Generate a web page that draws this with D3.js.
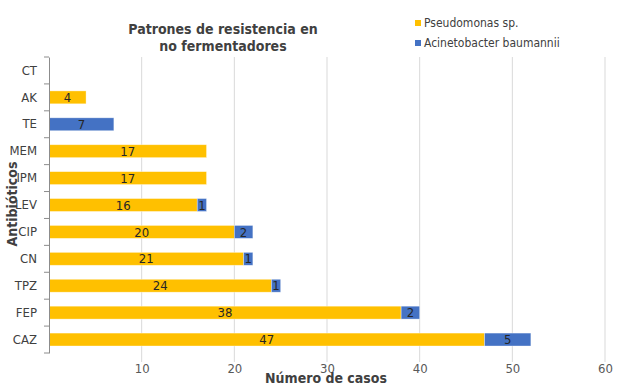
<!DOCTYPE html>
<html>
<head>
<meta charset="utf-8">
<script src="https://d3js.org/d3.v7.min.js"></script>
<style>
  body { margin: 0; background: #fff; }
  text { font-family: "DejaVu Sans Condensed", "DejaVu Sans", Verdana, sans-serif; }
</style>
</head>
<body>
<script>
    // Data
    var categories = ["CT", "AK", "TE", "MEM", "IPM", "LEV", "CIP", "CN", "TPZ", "FEP", "CAZ"];
    var pseudomonas = [0, 4, 0, 17, 17, 16, 20, 21, 24, 38, 47];
    var acinetobacter = [0, 0, 7, 0, 0, 1, 2, 1, 1, 2, 5];
    var seriesNames = ["Pseudomonas sp.", "Acinetobacter baumannii"];
    var xTicks = [10, 20, 30, 40, 50, 60];

    var W = 624, H = 387;
    var margin = {top: 57, left: 49, right: 19, bottom: 34};
    var width = W - margin.left - margin.right,
        height = H - margin.top - margin.bottom;

    var color = d3.scaleOrdinal().domain(seriesNames).range(["#FFC000", "#4472C4"]);

    var x = d3.scaleLinear().domain([0, 60]).range([0, width]);
    var y = d3.scaleBand().domain(categories).range([0, height]).paddingInner(0.52).paddingOuter(0.26);

    var svg = d3.select("body").append("svg")
        .attr("width", W).attr("height", H);
    var g = svg.append("g")
        .attr("transform", "translate(" + margin.left + "," + margin.top + ")");

    // gridlines
    g.append("g")
        .selectAll("line")
        .data(xTicks)
        .enter().append("line")
        .attr("x1", function(d) { return x(d); })
        .attr("x2", function(d) { return x(d); })
        .attr("y1", 0)
        .attr("y2", height + 9)
        .attr("stroke", "#D9D9D9")
        .attr("stroke-width", 1);

    // stacked data
    var rows = categories.map(function(c, i) {
        return {cat: c, p: pseudomonas[i], a: acinetobacter[i]};
    });
    var stack = d3.stack().keys(["p", "a"])(rows);

    var layer = g.selectAll(".layer")
        .data(stack)
        .enter().append("g")
        .attr("fill", function(d, i) { return color(seriesNames[i]); });

    layer.selectAll("rect")
        .data(function(d) { return d.filter(function(s) { return s[1] - s[0] > 0; }); })
        .enter().append("rect")
        .attr("x", function(d) { return x(d[0]); })
        .attr("width", function(d) { return x(d[1]) - x(d[0]); })
        .attr("y", function(d) { return y(d.data.cat); })
        .attr("height", y.bandwidth())
        .attr("stroke", "rgba(255,255,255,0.5)")
        .attr("stroke-width", 0.7);

    layer.selectAll("text")
        .data(function(d) { return d.filter(function(s) { return s[1] - s[0] > 0; }); })
        .enter().append("text")
        .attr("x", function(d) { return (x(d[0]) + x(d[1])) / 2; })
        .attr("y", function(d) { return y(d.data.cat) + y.bandwidth() / 2; })
        .attr("dy", "0.36em")
        .attr("text-anchor", "middle")
        .attr("fill", "#262626")
        .style("font-size", "13px")
        .text(function(d) { return d[1] - d[0]; });

    // y axis
    var yAxis = g.append("g")
        .call(d3.axisLeft(y).tickSize(0).tickPadding(12));
    yAxis.select(".domain").attr("stroke", "#8C8C8C");
    yAxis.selectAll("text").attr("fill", "#404040").style("font-size", "13px");
    // category boundary ticks
    var bounds = d3.range(categories.length + 1).map(function(i) { return i * height / categories.length; });
    yAxis.selectAll(".bound")
        .data(bounds)
        .enter().append("line")
        .attr("x1", -5).attr("x2", 0)
        .attr("y1", function(d) { return d; })
        .attr("y2", function(d) { return d; })
        .attr("stroke", "#8C8C8C");

    // x axis labels
    var xAxis = g.append("g")
        .attr("transform", "translate(0," + height + ")")
        .call(d3.axisBottom(x).tickValues(xTicks).tickSize(0).tickPadding(11));
    xAxis.select(".domain").remove();
    xAxis.selectAll("text").attr("fill", "#595959").style("font-size", "13px");

    // title
    var title = svg.append("text")
        .attr("x", 223).attr("y", 34)
        .attr("text-anchor", "middle")
        .attr("fill", "#404040")
        .style("font-size", "14px")
        .style("font-weight", "bold");
    title.append("tspan").attr("x", 223).attr("dy", 0).text("Patrones de resistencia en");
    title.append("tspan").attr("x", 223).attr("dy", 17).text("no fermentadores");

    // axis titles
    svg.append("text")
        .attr("transform", "translate(17,204) rotate(-90)")
        .attr("text-anchor", "middle")
        .attr("fill", "#404040")
        .style("font-size", "14px")
        .style("font-weight", "bold")
        .text("Antibióticos");

    svg.append("text")
        .attr("x", 326).attr("y", 383)
        .attr("text-anchor", "middle")
        .attr("fill", "#404040")
        .style("font-size", "14px")
        .style("font-weight", "bold")
        .text("Número de casos");

    // legend
    var legend = svg.append("g").attr("transform", "translate(415,0)");
    seriesNames.forEach(function(s, i) {
        legend.append("rect")
            .attr("x", 0).attr("y", 20 + i * 20)
            .attr("width", 6).attr("height", 6)
            .attr("fill", color(s));
        legend.append("text")
            .attr("x", 9).attr("y", 23 + i * 20)
            .attr("dy", "0.36em")
            .attr("fill", "#404040")
            .style("font-size", "12px")
            .text(s);
    });
</script>
</body>
</html>
